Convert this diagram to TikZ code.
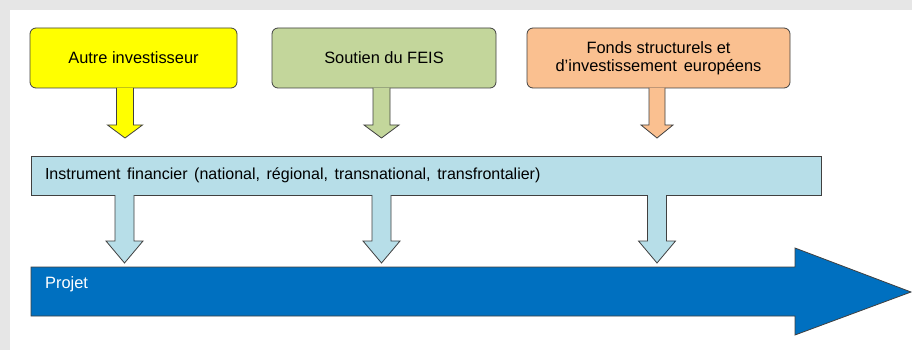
\documentclass[tikz,border=0pt]{standalone}
\usepackage{fontspec}
\setmainfont{Liberation Sans}
\definecolor{bgray}{HTML}{E6E6E6}
\definecolor{cyellow}{HTML}{FFFF00}
\definecolor{cgreen}{HTML}{C3D69B}
\definecolor{corange}{HTML}{FAC090}
\definecolor{clblue}{HTML}{B7DEE8}
\definecolor{cdblue}{HTML}{0070C0}
\definecolor{cline}{HTML}{404040}
\newcommand\blockarr[7]{%
  \draw[arrline, fill=#7] (#1-#5,#2) -- (#1-#5,#3) -- (#1-#6,#3) -- (#1,#4) -- (#1+#6,#3) -- (#1+#5,#3) -- (#1+#5,#2);}
\begin{document}
\begin{tikzpicture}[x=1pt,y=-1pt,
  box/.style={draw=cline, line width=0.8pt, rounded corners=6pt, minimum height=60pt, inner sep=2pt,
    align=center, font=\fontsize{16.4}{18}\selectfont},
  instbox/.style={draw=cline, line width=0.8pt, fill=clblue, minimum height=39pt, text width=762pt,
    inner xsep=14pt, inner ysep=0pt, align=left, font=\fontsize{16}{18}\selectfont},
  arrline/.style={draw=cline, line width=0.8pt, line join=miter},
  projtext/.style={text=white, anchor=west, inner sep=0pt, font=\fontsize{16.4}{18}\selectfont}]
\fill[bgray] (0,0) rectangle (912,350);
\fill[white] (10,10) rectangle (912,350);
\useasboundingbox (0,0) rectangle (912,350);

\node[box, fill=cyellow, minimum width=207pt] (a) at (133.5,58) {Autre investisseur};
\node[box, fill=cgreen, minimum width=224pt] (b) at (384,58) {Soutien du FEIS};
\node[box, fill=corange, minimum width=263pt] (c) at (658.5,58) {Fonds structurels et\\d’investissement\hspace{2.5pt} européens};

\node[instbox] (inst) at (426,175.5) {\spaceskip=6.6pt plus 1pt Instrument financier (national, régional, transnational, transfrontalier)};

% arrows from source boxes to the instrument
\blockarr{125}{88}{125}{138}{8.5}{17.5}{cyellow}
\blockarr{381.5}{88}{125}{138}{8.5}{17.5}{cgreen}
\blockarr{657}{88}{125}{138}{8}{16}{corange}

% arrows from the instrument to the project
\blockarr{124.5}{195}{241}{263}{9.5}{18.5}{clblue}
\blockarr{381.5}{195}{241}{263}{9.5}{18.5}{clblue}
\blockarr{657}{195}{241}{263}{9.5}{18.5}{clblue}

% project arrow
\draw[arrline, fill=cdblue] (31,267) -- (795,267) -- (795,248) -- (911,292) -- (795,335) -- (795,316) -- (31,316) -- cycle;
\node[projtext] (proj) at (45,284) {Projet};
\end{tikzpicture}
\end{document}
